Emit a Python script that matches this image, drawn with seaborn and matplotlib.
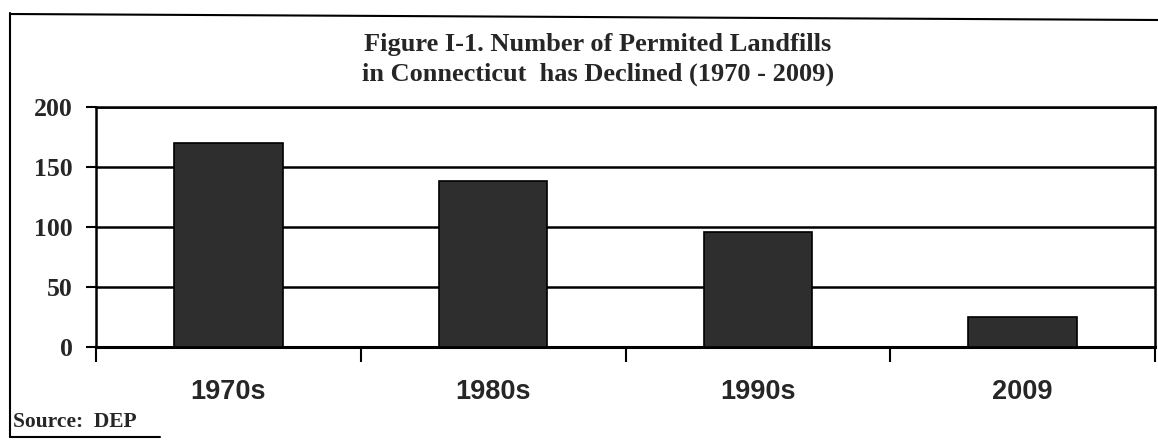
import matplotlib
matplotlib.use("Agg")
import matplotlib.pyplot as plt
import seaborn as sns
import pandas as pd
from matplotlib.lines import Line2D

categories = ["1970s", "1980s", "1990s", "2009"]
landfills = [170, 138, 96, 25]
y_ticks = [0, 50, 100, 150, 200]

title = "Figure I-1. Number of Permited Landfills\nin Connecticut  has Declined (1970 - 2009)"
source = "Source:  DEP"

sns.set_theme(style="white")
plt.rcParams['font.family'] = ['Liberation Serif', 'DejaVu Serif']

df = pd.DataFrame({"period": categories, "count": landfills})

W, H = 1158, 440
fig = plt.figure(figsize=(W / 100, H / 100), dpi=100)
fig.patch.set_facecolor("white")
ax = fig.add_axes([96 / W, 1 - 347 / H, (1155 - 96) / W, (347 - 107) / H])
ax.set_facecolor("white")

sns.barplot(data=df, x="period", y="count", order=categories, color="#2e2e2e",
            saturation=1, width=0.41, edgecolor="black", linewidth=1.2, ax=ax, zorder=3)

ax.set_ylim(0, 200)
ax.set_xlim(-0.5, 3.5)
ax.set_yticks(y_ticks)
ax.set_yticklabels([str(v) for v in y_ticks], fontsize=18.5, fontweight="bold",
                   family="Liberation Serif")
ax.yaxis.grid(True, color="black", linewidth=1.8, zorder=1)
ax.set_axisbelow(True)
ax.tick_params(axis="y", direction="out", length=7.5, width=1.5, color="black", pad=9, left=True)

ax.set_xticks(range(len(categories)))
ax.set_xticklabels(categories, fontsize=19.5, fontweight="bold", family="Liberation Sans")
ax.tick_params(axis="x", which="major", length=0, pad=23)
ax.set_xticks([i - 0.5 for i in range(len(categories) + 1)], minor=True)
ax.tick_params(axis="x", which="minor", direction="out", length=11, width=1.5, color="black", bottom=True)

ax.set_xlabel("")
ax.set_ylabel("")
for side in ["left", "bottom", "right", "top"]:
    ax.spines[side].set_visible(True)
    ax.spines[side].set_color("black")
    ax.spines[side].set_linewidth(1.8)
ax.spines["bottom"].set_linewidth(2.2)

fig.text(598 / W, 1 - 59.5 / H, title, ha="center", va="center", fontsize=19,
         fontweight="bold", family="Liberation Serif", linespacing=1.32)
fig.text(13 / W, 1 - 422 / H, source, ha="left", va="center", fontsize=15.5,
         fontweight="bold", family="Liberation Serif")

# outer frame (partial, as in the scanned figure)
fig.add_artist(Line2D([10 / W, 10 / W], [1 - 13 / H, 1 - 437 / H], color="black", lw=1.5))
fig.add_artist(Line2D([10 / W, 1158 / W], [1 - 14 / H, 1 - 20 / H], color="black", lw=1.5))
fig.add_artist(Line2D([10 / W, 160 / W], [1 - 437 / H, 1 - 437 / H], color="black", lw=1.5))

fig.savefig("out.png", dpi=100, facecolor="white")
